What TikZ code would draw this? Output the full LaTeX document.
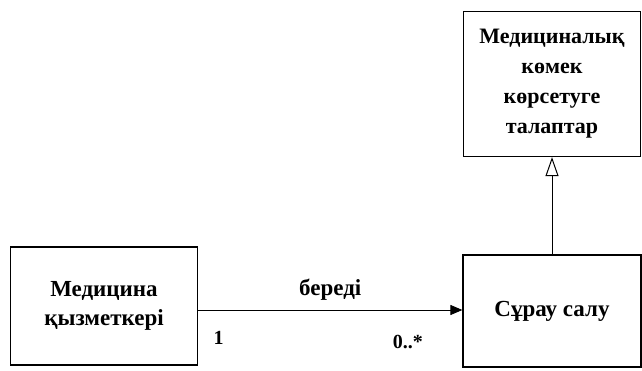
\documentclass[tikz,border=0pt]{standalone}
\usepackage{fontspec}
\setmainfont{Liberation Serif}
\usetikzlibrary{arrows.meta, positioning}

\begin{document}
\begin{tikzpicture}[
    x=1pt, y=-1pt,
    >=Stealth,
    font=\fontsize{23}{29}\selectfont\bfseries,
    classbox/.style={
        draw, line width=1.2pt,
        align=center, inner sep=4pt
    },
    assocarrow/.style={
        -{Triangle[length=12pt,width=10pt]},
        line width=1pt
    },
    genarrow/.style={
        -{Triangle[open,length=19pt,width=13pt]},
        line width=1pt
    },
    multlabel/.style={font=\fontsize{20}{22}\selectfont\bfseries},
]
\useasboundingbox (0,0) rectangle (642,371);

% ============================================================
%  CLASSES
% ============================================================
\node[classbox, minimum width=177pt, minimum height=145pt,
      font=\fontsize{22}{30}\selectfont\bfseries] (demands) at (552,84)
    {Медициналық\\көмек\\көрсетуге\\талаптар};

\node[classbox, minimum width=187pt, minimum height=118pt] (worker) at (104,306)
    {Медицина\\қызметкері};

\node[classbox, minimum width=178pt, minimum height=112pt] (request) at (552,311)
    {Сұрау салу};

% ============================================================
%  CONNECTORS
% ============================================================
\draw[assocarrow] (worker.east |- 0,310) coordinate (assocStart)
    -- node[above=6pt] (verb) {береді}
    (request.west |- assocStart);

\node[multlabel, below right=18pt and 12pt of assocStart] (multOne) {1};
\node[multlabel, below left=22pt and 36pt of request.west |- assocStart] (multMany) {0..*};

\draw[genarrow] (request.north) -- (demands.south);

\end{tikzpicture}
\end{document}
